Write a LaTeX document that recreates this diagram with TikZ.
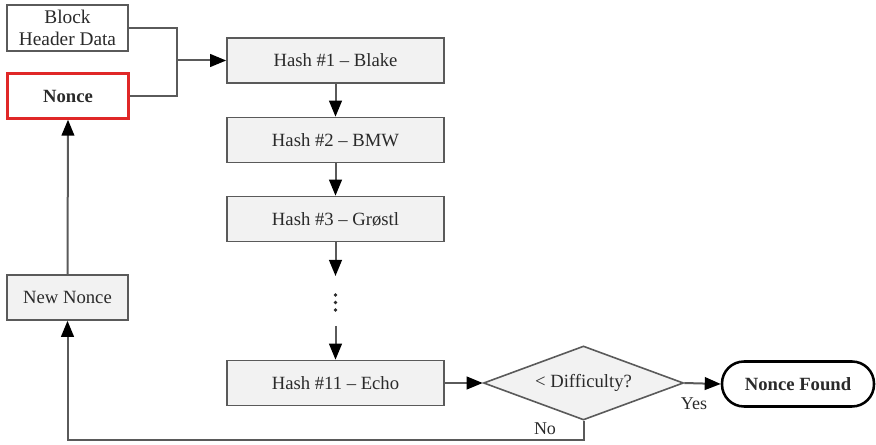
\documentclass[tikz,border=0pt]{standalone}
\usepackage{fontspec}
\setmainfont[Ligatures=TeX]{Liberation Serif}
\newfontfamily\diagfont[Ligatures=TeX]{Liberation Serif}
\usetikzlibrary{arrows.meta,shapes.geometric,positioning}
\definecolor{edgegrey}{HTML}{5A5A5A}
\definecolor{boxfill}{HTML}{F2F2F2}
\definecolor{txt}{HTML}{2A2A2A}
\definecolor{noncered}{HTML}{E02828}
\begin{document}
\begin{tikzpicture}[x=0.75pt,y=-0.75pt,
  every node/.style={font=\diagfont\fontsize{14}{15}\selectfont, text=txt},
  hashbox/.style={draw=edgegrey, fill=boxfill, line width=1.2pt, minimum width=217*0.75pt, minimum height=45*0.75pt, inner sep=0pt},
  sidebox/.style={draw=edgegrey, fill=white, line width=1.2pt, minimum width=121*0.75pt, minimum height=45*0.75pt, inner sep=0pt, align=center},
  link/.style={draw=edgegrey, line width=1.5pt},
  arr/.style={link, -{Triangle[length=12pt,width=9.5pt,color=black]}},
  lbl/.style={font=\diagfont\fontsize{13.5}{14}\selectfont}
]
\useasboundingbox (0,0) rectangle (876,445);

% input boxes
\node[sidebox, minimum height=46*0.75pt, font=\diagfont\fontsize{14.5}{16.5}\selectfont] (hdr) at (67.5,28) {Block\\Header Data};
\node[sidebox, draw=noncered, line width=1.8pt, font=\diagfont\fontsize{14}{15}\selectfont\bfseries] (nonce) at (68,96) {Nonce};
\node[sidebox, fill=boxfill] (newn) at (67.5,297.5) {New Nonce};

% hash chain
\node[hashbox] (h1) at (335.5,60.5) {Hash \#1 – Blake};
\node[hashbox] (h2) at (335.5,140) {Hash \#2 – BMW};
\node[hashbox] (h3) at (335.5,219) {Hash \#3 – Grøstl};
\node[hashbox] (h11) at (335.5,383) {Hash \#11 – Echo};
\coordinate (gapA) at (335.5,276);
\coordinate (gapB) at (335.5,326);
% vertical ellipsis between the third and eleventh hash
\foreach \yy in {295,302.5,310} \fill[txt] (335.5,\yy) circle[radius=1.9];

% decision and result
\node[diamond, draw=edgegrey, fill=boxfill, line width=1.2pt, minimum width=200*0.75pt, minimum height=74*0.75pt, aspect=2.7, inner sep=0pt] (dec) at (583.5,383) {\textless\ Difficulty?};
\node[draw=black, fill=white, line width=1.9pt, rounded corners=22*0.75pt, minimum width=152*0.75pt, minimum height=45*0.75pt, inner sep=0pt, font=\diagfont\fontsize{14}{15}\selectfont\bfseries] (found) at (798,384) {Nonce Found};

% merge of the two inputs into the first hash
\coordinate (merge) at (177,60.5);
\draw[link] (hdr.east) -| (merge);
\draw[link] (nonce.east) -| (merge);
\draw[arr] (merge) -- (h1.west);

% hash chain connectors
\draw[arr] (h1) -- (h2);
\draw[arr] (h2) -- (h3);
\draw[arr] (h3.south) -- (gapA);
\draw[arr] (gapB) -- (h11.north);
\draw[arr] (h11.east) -- (dec.west);

% outcomes
\draw[arr] (dec.east) -- (found.west);
\node[lbl] (yes) at (694,404) {Yes};
\coordinate (nocorner) at (583.5,440);
\draw[arr] (dec.south) -- (nocorner) -| (newn.south);
\node[lbl] (no) at (545,429) {No};
\draw[arr] (newn.north) -- (nonce.south);
\end{tikzpicture}
\end{document}
